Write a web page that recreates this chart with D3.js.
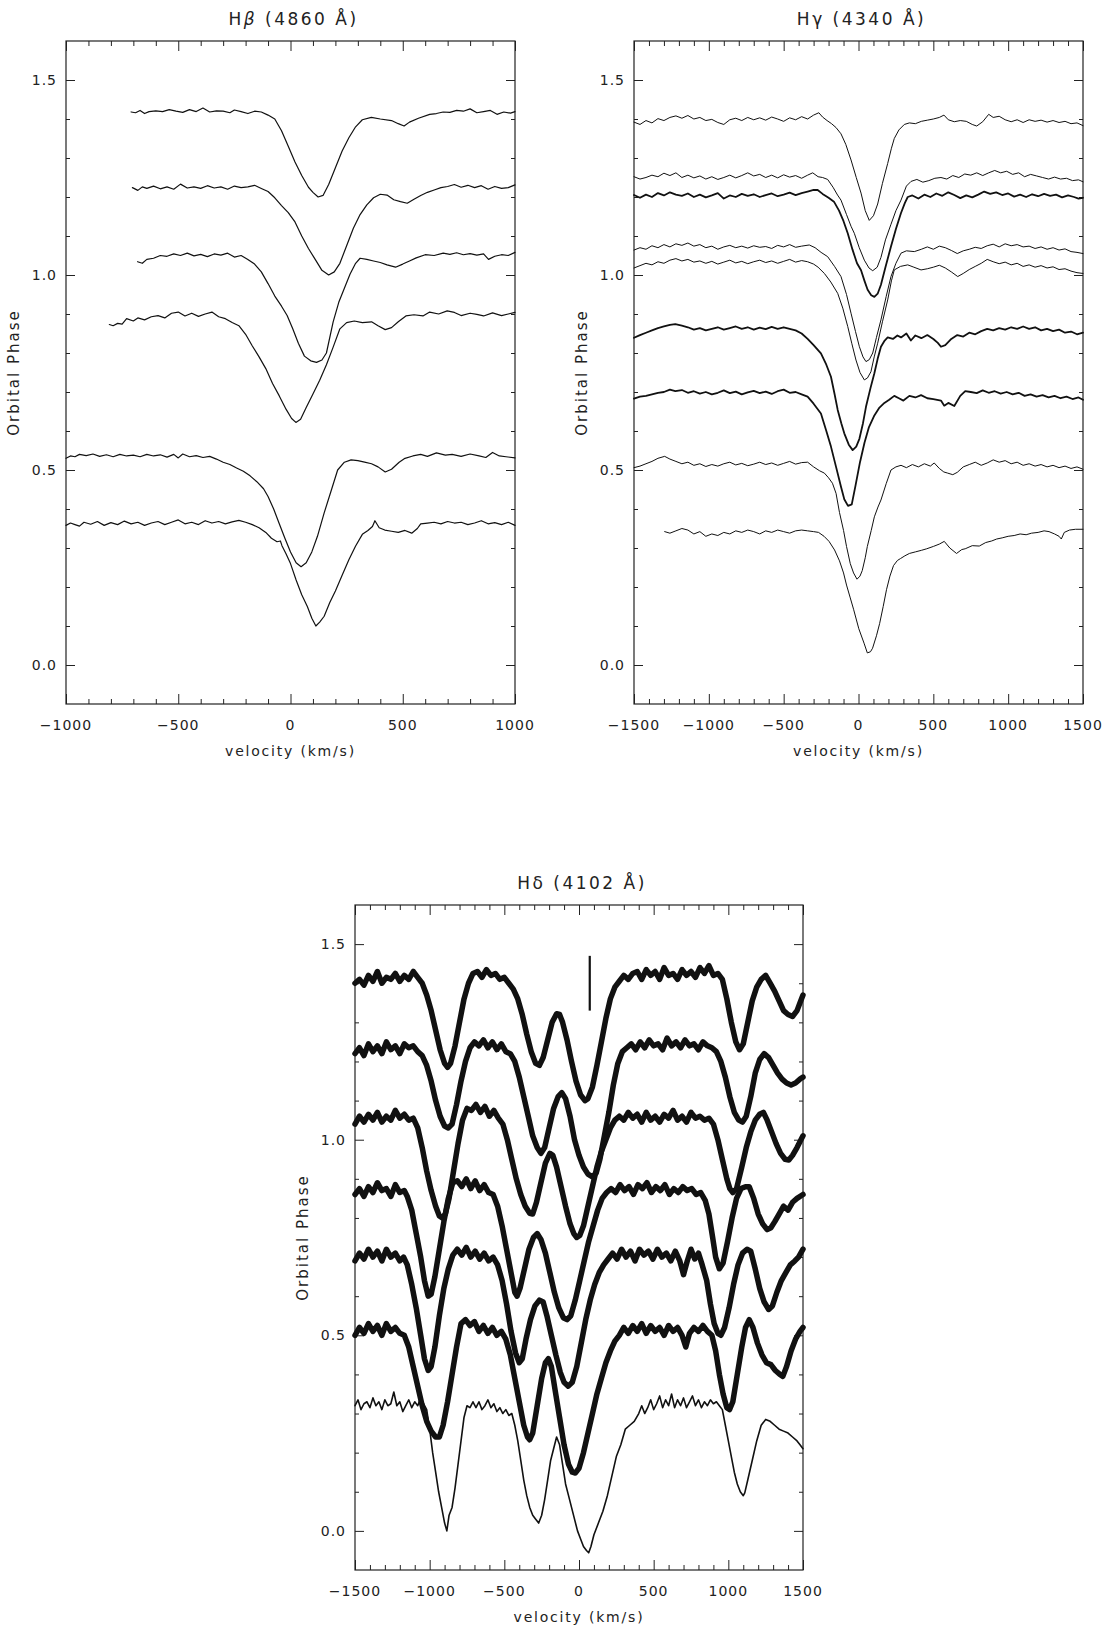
<!DOCTYPE html>
<html>
<head>
<meta charset="utf-8">
<script src="https://cdnjs.cloudflare.com/ajax/libs/d3/7.8.5/d3.min.js"></script>
<style>
    body { margin: 0; background: #fff; }
    svg text { font-family: "DejaVu Sans", sans-serif; fill: #222; }
    .axis path { display: none; }
    .axis line { stroke: #222; stroke-width: 1; }
    .frame { fill: none; stroke: #222; stroke-width: 1.2; }
    .spec { fill: none; stroke: #111; stroke-linejoin: round; stroke-linecap: round; }
</style>
</head>
<body>
<div id="chart"></div>
<script>
// tick labels
var phaseTicks = [0.0, 0.5, 1.0, 1.5];
var hbetaVelTicks = [-1000, -500, 0, 500, 1000];
var wideVelTicks = [-1500, -1000, -500, 0, 500, 1000, 1500];

// H-beta spectra, flat [velocity, phase, ...]
var hbeta1 = [-710,1.418, -690,1.416, -670,1.422, -650,1.414, -630,1.419, -600,1.421, -570,1.419, -540,1.424, -510,1.420, -480,1.417, -450,1.424, -420,1.419, -390,1.428, -360,1.418, -330,1.421, -300,1.420, -270,1.416, -250,1.423, -220,1.419, -190,1.414, -160,1.420, -130,1.418, -100,1.410, -70,1.400, -40,1.370, -10,1.330, 20,1.290, 50,1.255, 80,1.225, 100,1.212, 123,1.200, 145,1.204, 170,1.232, 200,1.275, 230,1.318, 260,1.352, 290,1.380, 320,1.398, 360,1.404, 400,1.400, 450,1.396, 480,1.388, 506,1.382, 530,1.392, 570,1.402, 620,1.412, 650,1.414, 680,1.418, 710,1.417, 740,1.422, 770,1.420, 800,1.426, 830,1.416, 860,1.419, 890,1.422, 920,1.412, 950,1.418, 980,1.415, 1000,1.419];
var hbeta2 = [-704,1.224, -680,1.217, -660,1.226, -640,1.222, -610,1.228, -580,1.221, -550,1.226, -520,1.220, -490,1.233, -460,1.223, -430,1.226, -400,1.222, -370,1.229, -340,1.223, -310,1.226, -280,1.220, -250,1.228, -220,1.224, -190,1.226, -160,1.230, -130,1.222, -100,1.214, -70,1.198, -40,1.178, -10,1.160, 20,1.136, 50,1.100, 80,1.068, 110,1.040, 140,1.012, 170,1.000, 195,1.008, 220,1.030, 250,1.075, 280,1.120, 310,1.155, 340,1.180, 370,1.198, 400,1.207, 430,1.205, 460,1.193, 490,1.188, 520,1.184, 550,1.194, 580,1.204, 610,1.212, 640,1.218, 670,1.224, 700,1.227, 730,1.232, 760,1.225, 790,1.230, 820,1.224, 850,1.229, 880,1.220, 910,1.227, 940,1.222, 970,1.224, 1000,1.231];
var hbeta3 = [-681,1.034, -660,1.030, -640,1.040, -610,1.043, -580,1.050, -550,1.048, -520,1.054, -490,1.050, -460,1.056, -430,1.049, -400,1.053, -370,1.047, -340,1.054, -310,1.051, -280,1.056, -250,1.046, -220,1.050, -190,1.040, -160,1.028, -130,1.008, -100,0.978, -70,0.946, -40,0.920, -15,0.896, 10,0.862, 35,0.825, 62,0.792, 90,0.780, 116,0.776, 140,0.782, 160,0.800, 190,0.880, 215,0.930, 240,0.966, 265,1.002, 290,1.030, 310,1.043, 340,1.040, 370,1.036, 400,1.032, 430,1.026, 468,1.020, 500,1.028, 530,1.036, 560,1.044, 600,1.052, 640,1.050, 680,1.056, 710,1.053, 740,1.057, 770,1.052, 800,1.055, 830,1.051, 860,1.054, 882,1.040, 910,1.048, 940,1.052, 970,1.050, 1000,1.058];
var hbeta4 = [-807,0.873, -790,0.870, -770,0.876, -750,0.874, -730,0.888, -700,0.882, -680,0.890, -650,0.885, -620,0.893, -590,0.896, -560,0.890, -530,0.902, -500,0.905, -470,0.895, -440,0.902, -410,0.894, -380,0.900, -350,0.905, -320,0.893, -290,0.888, -260,0.878, -230,0.870, -200,0.848, -170,0.818, -140,0.790, -110,0.760, -80,0.722, -50,0.690, -20,0.656, 5,0.632, 24,0.622, 45,0.630, 70,0.660, 100,0.695, 130,0.730, 160,0.770, 190,0.815, 220,0.862, 250,0.878, 284,0.882, 320,0.878, 361,0.880, 390,0.870, 422,0.860, 450,0.865, 480,0.880, 514,0.895, 550,0.898, 590,0.895, 620,0.905, 660,0.900, 698,0.908, 730,0.904, 760,0.896, 800,0.902, 830,0.899, 860,0.895, 900,0.903, 940,0.896, 970,0.900, 1000,0.904];
var hbeta5 = [-1000,0.530, -980,0.536, -960,0.534, -940,0.540, -910,0.537, -880,0.541, -850,0.535, -820,0.539, -790,0.534, -760,0.540, -730,0.536, -700,0.538, -670,0.534, -640,0.540, -610,0.536, -580,0.539, -550,0.533, -520,0.540, -500,0.531, -480,0.541, -450,0.534, -420,0.537, -390,0.532, -360,0.535, -330,0.528, -300,0.520, -270,0.514, -240,0.505, -210,0.497, -180,0.485, -150,0.470, -120,0.452, -100,0.432, -75,0.400, -50,0.362, -25,0.325, 0,0.290, 25,0.262, 47,0.252, 70,0.262, 95,0.290, 120,0.330, 150,0.390, 180,0.445, 210,0.500, 240,0.520, 270,0.526, 300,0.524, 330,0.520, 361,0.516, 390,0.508, 422,0.495, 450,0.502, 484,0.520, 510,0.530, 545,0.536, 580,0.540, 610,0.535, 650,0.544, 690,0.538, 720,0.540, 760,0.535, 800,0.541, 840,0.536, 870,0.532, 900,0.545, 930,0.536, 960,0.534, 1000,0.531];
var hbeta6 = [-1000,0.358, -980,0.364, -960,0.360, -940,0.356, -920,0.366, -890,0.361, -860,0.368, -830,0.358, -800,0.365, -770,0.360, -740,0.369, -710,0.362, -680,0.366, -650,0.358, -620,0.364, -590,0.368, -560,0.360, -530,0.366, -500,0.372, -470,0.362, -440,0.366, -410,0.360, -380,0.370, -350,0.364, -320,0.368, -290,0.362, -260,0.367, -230,0.371, -200,0.366, -170,0.360, -140,0.352, -110,0.340, -85,0.325, -60,0.316, -45,0.318, -38,0.306, -20,0.285, 0,0.260, 25,0.218, 50,0.180, 75,0.150, 95,0.120, 113,0.100, 130,0.110, 150,0.125, 175,0.160, 200,0.190, 230,0.230, 260,0.270, 290,0.305, 320,0.335, 345,0.345, 365,0.355, 376,0.370, 395,0.352, 420,0.346, 450,0.343, 480,0.340, 510,0.345, 540,0.338, 565,0.350, 580,0.362, 610,0.364, 640,0.366, 670,0.362, 700,0.368, 730,0.364, 760,0.366, 790,0.360, 820,0.364, 850,0.370, 880,0.362, 910,0.365, 940,0.360, 970,0.366, 1000,0.358];

// H-gamma spectra
var hgamma1 = [-1500,1.392, -1460,1.386, -1420,1.396, -1380,1.390, -1340,1.401, -1300,1.396, -1260,1.404, -1220,1.408, -1180,1.402, -1140,1.409, -1100,1.400, -1060,1.404, -1020,1.396, -980,1.399, -940,1.391, -900,1.386, -860,1.398, -820,1.402, -780,1.396, -740,1.404, -700,1.398, -660,1.403, -620,1.397, -580,1.405, -540,1.400, -500,1.394, -460,1.403, -420,1.398, -380,1.406, -340,1.400, -300,1.410, -265,1.416, -240,1.405, -210,1.396, -180,1.388, -150,1.378, -117,1.362, -85,1.335, -50,1.295, -15,1.250, 17,1.210, 45,1.165, 72,1.140, 100,1.152, 128,1.182, 160,1.235, 195,1.286, 220,1.325, 239,1.350, 270,1.372, 306,1.386, 340,1.390, 380,1.388, 420,1.394, 460,1.397, 500,1.400, 540,1.404, 571,1.410, 600,1.398, 640,1.393, 680,1.396, 720,1.394, 760,1.386, 790,1.382, 830,1.393, 870,1.412, 900,1.404, 940,1.407, 980,1.398, 1020,1.393, 1060,1.398, 1100,1.391, 1140,1.398, 1180,1.394, 1220,1.397, 1260,1.392, 1300,1.396, 1340,1.391, 1380,1.394, 1420,1.388, 1460,1.390, 1500,1.383];
var hgamma2 = [-1500,1.252, -1460,1.246, -1420,1.250, -1380,1.256, -1340,1.252, -1300,1.261, -1260,1.255, -1220,1.262, -1180,1.250, -1140,1.256, -1100,1.249, -1060,1.254, -1020,1.246, -980,1.252, -940,1.245, -900,1.250, -860,1.256, -820,1.249, -780,1.255, -740,1.262, -700,1.254, -660,1.258, -620,1.250, -580,1.256, -540,1.249, -500,1.257, -460,1.251, -420,1.255, -380,1.248, -340,1.256, -306,1.262, -270,1.252, -240,1.250, -206,1.245, -170,1.225, -140,1.205, -117,1.192, -80,1.155, -50,1.125, -28,1.107, 5,1.070, 39,1.038, 70,1.018, 95,1.011, 125,1.020, 150,1.045, 180,1.090, 217,1.130, 250,1.165, 284,1.192, 320,1.228, 351,1.240, 390,1.245, 430,1.238, 470,1.242, 510,1.248, 551,1.250, 590,1.246, 630,1.255, 670,1.250, 710,1.259, 750,1.256, 790,1.262, 830,1.255, 870,1.262, 910,1.268, 950,1.262, 990,1.266, 1030,1.258, 1070,1.262, 1110,1.252, 1150,1.258, 1190,1.254, 1230,1.250, 1270,1.246, 1310,1.251, 1350,1.246, 1390,1.248, 1430,1.242, 1470,1.244, 1500,1.239];
var hgamma3 = [-1500,1.205, -1460,1.198, -1420,1.206, -1380,1.200, -1340,1.210, -1300,1.204, -1260,1.212, -1220,1.206, -1180,1.203, -1140,1.209, -1100,1.200, -1060,1.206, -1020,1.199, -980,1.204, -940,1.210, -900,1.196, -860,1.204, -820,1.200, -780,1.208, -740,1.203, -700,1.207, -660,1.200, -620,1.205, -580,1.209, -540,1.202, -500,1.206, -460,1.211, -420,1.205, -380,1.210, -340,1.214, -300,1.218, -273,1.218, -240,1.208, -200,1.198, -164,1.188, -130,1.165, -100,1.138, -72,1.107, -40,1.065, -10,1.030, 17,1.012, 40,0.985, 61,0.962, 85,0.948, 106,0.944, 128,0.952, 150,0.975, 180,1.020, 217,1.073, 250,1.118, 284,1.159, 310,1.185, 329,1.200, 360,1.204, 400,1.196, 440,1.206, 480,1.200, 520,1.209, 560,1.203, 600,1.212, 640,1.205, 680,1.197, 720,1.204, 760,1.199, 800,1.206, 840,1.214, 880,1.208, 920,1.212, 960,1.205, 1000,1.209, 1040,1.201, 1080,1.206, 1120,1.200, 1160,1.207, 1200,1.202, 1240,1.208, 1280,1.203, 1320,1.206, 1360,1.199, 1400,1.204, 1440,1.200, 1470,1.196, 1500,1.198];
var hgamma4 = [-1500,1.064, -1460,1.070, -1420,1.066, -1380,1.075, -1340,1.070, -1300,1.078, -1260,1.072, -1220,1.080, -1180,1.076, -1140,1.082, -1100,1.074, -1060,1.078, -1020,1.070, -980,1.074, -940,1.066, -900,1.072, -860,1.076, -820,1.070, -780,1.074, -740,1.069, -700,1.075, -660,1.071, -620,1.073, -580,1.068, -540,1.076, -500,1.072, -460,1.078, -420,1.071, -380,1.074, -329,1.077, -290,1.070, -250,1.058, -206,1.047, -160,1.022, -117,0.996, -80,0.950, -50,0.902, -20,0.855, 6,0.816, 30,0.790, 50,0.778, 72,0.783, 95,0.800, 120,0.840, 150,0.885, 185,0.945, 217,0.996, 250,1.030, 284,1.056, 320,1.062, 373,1.060, 420,1.066, 460,1.072, 500,1.066, 540,1.074, 580,1.070, 620,1.063, 660,1.055, 700,1.062, 740,1.066, 780,1.071, 820,1.068, 860,1.075, 900,1.079, 940,1.072, 980,1.080, 1020,1.075, 1060,1.078, 1100,1.072, 1140,1.074, 1180,1.068, 1220,1.072, 1260,1.066, 1300,1.070, 1340,1.064, 1380,1.067, 1420,1.060, 1460,1.058, 1500,1.055];
var hgamma5 = [-1500,1.018, -1460,1.024, -1420,1.030, -1380,1.026, -1340,1.034, -1300,1.030, -1260,1.038, -1220,1.042, -1180,1.036, -1140,1.040, -1100,1.033, -1060,1.036, -1020,1.030, -980,1.035, -940,1.028, -900,1.033, -860,1.038, -820,1.031, -780,1.035, -740,1.029, -700,1.034, -660,1.038, -620,1.032, -580,1.036, -540,1.030, -500,1.035, -460,1.040, -420,1.033, -380,1.037, -340,1.034, -300,1.028, -270,1.020, -228,1.004, -185,0.982, -139,0.953, -105,0.915, -72,0.868, -45,0.825, -17,0.782, 10,0.750, 39,0.731, 60,0.736, 83,0.752, 105,0.790, 128,0.825, 160,0.880, 195,0.936, 220,0.985, 239,1.013, 280,1.022, 329,1.026, 370,1.020, 418,1.013, 460,1.016, 500,1.020, 540,1.025, 580,1.018, 620,1.008, 663,0.996, 700,1.004, 740,1.014, 780,1.022, 820,1.030, 860,1.040, 900,1.034, 940,1.029, 980,1.033, 1020,1.026, 1060,1.030, 1100,1.022, 1140,1.026, 1180,1.020, 1220,1.024, 1260,1.018, 1300,1.021, 1340,1.014, 1380,1.016, 1420,1.010, 1460,1.006, 1500,1.004];
var hgamma6 = [-1500,0.839, -1460,0.846, -1420,0.852, -1380,0.858, -1340,0.864, -1300,0.868, -1260,0.872, -1224,0.874, -1180,0.870, -1140,0.866, -1100,0.860, -1060,0.864, -1020,0.858, -980,0.862, -940,0.866, -900,0.860, -860,0.864, -820,0.868, -780,0.862, -740,0.866, -700,0.860, -660,0.865, -620,0.861, -580,0.867, -540,0.862, -500,0.866, -460,0.862, -420,0.858, -380,0.850, -340,0.836, -300,0.820, -251,0.799, -215,0.770, -184,0.739, -160,0.695, -139,0.654, -115,0.620, -95,0.594, -65,0.565, -39,0.551, -15,0.560, 6,0.580, 30,0.620, 50,0.662, 80,0.710, 106,0.748, 128,0.785, 150,0.816, 175,0.832, 195,0.840, 230,0.836, 260,0.845, 284,0.840, 320,0.850, 350,0.832, 380,0.845, 420,0.838, 460,0.846, 500,0.836, 530,0.826, 551,0.816, 580,0.820, 620,0.836, 660,0.846, 700,0.842, 740,0.852, 780,0.848, 820,0.856, 860,0.862, 900,0.858, 940,0.864, 980,0.860, 1020,0.866, 1060,0.862, 1100,0.868, 1140,0.862, 1180,0.866, 1220,0.858, 1260,0.862, 1300,0.856, 1340,0.860, 1380,0.852, 1420,0.855, 1460,0.848, 1500,0.852];
var hgamma7 = [-1500,0.683, -1460,0.688, -1420,0.690, -1380,0.694, -1340,0.698, -1300,0.700, -1260,0.706, -1224,0.702, -1180,0.705, -1140,0.698, -1100,0.702, -1060,0.696, -1020,0.700, -980,0.694, -940,0.698, -900,0.704, -860,0.697, -820,0.701, -780,0.694, -740,0.699, -700,0.703, -660,0.697, -620,0.701, -580,0.695, -540,0.702, -500,0.706, -460,0.698, -420,0.700, -380,0.694, -340,0.688, -300,0.670, -251,0.645, -215,0.600, -184,0.560, -150,0.508, -117,0.457, -95,0.425, -70,0.408, -45,0.412, -20,0.460, 10,0.520, 40,0.570, 70,0.610, 106,0.640, 140,0.660, 173,0.672, 205,0.680, 239,0.690, 270,0.684, 300,0.678, 340,0.690, 380,0.686, 418,0.692, 460,0.684, 500,0.682, 551,0.678, 573,0.665, 600,0.672, 640,0.664, 680,0.690, 713,0.702, 750,0.700, 790,0.697, 830,0.704, 870,0.698, 910,0.702, 950,0.696, 990,0.700, 1030,0.694, 1070,0.698, 1110,0.690, 1150,0.694, 1190,0.688, 1230,0.692, 1270,0.686, 1310,0.690, 1350,0.684, 1390,0.688, 1430,0.682, 1470,0.686, 1500,0.680];
var hgamma8 = [-1500,0.506, -1460,0.510, -1420,0.516, -1380,0.522, -1340,0.530, -1295,0.535, -1260,0.528, -1220,0.522, -1180,0.516, -1140,0.520, -1100,0.512, -1060,0.516, -1020,0.509, -980,0.514, -940,0.510, -900,0.516, -860,0.520, -820,0.513, -780,0.517, -740,0.511, -700,0.515, -660,0.520, -620,0.514, -580,0.518, -540,0.512, -500,0.517, -460,0.522, -420,0.515, -380,0.519, -340,0.520, -300,0.508, -260,0.498, -228,0.492, -200,0.480, -174,0.466, -150,0.440, -127,0.391, -100,0.345, -80,0.304, -55,0.260, -33,0.236, -10,0.220, 10,0.228, 25,0.242, 45,0.275, 59,0.304, 85,0.345, 106,0.380, 130,0.405, 150,0.423, 185,0.465, 217,0.500, 250,0.508, 284,0.512, 320,0.506, 360,0.514, 400,0.508, 440,0.516, 480,0.510, 506,0.518, 540,0.504, 570,0.495, 596,0.492, 630,0.488, 660,0.494, 700,0.508, 740,0.514, 780,0.520, 820,0.512, 860,0.518, 900,0.526, 940,0.520, 980,0.524, 1020,0.516, 1060,0.520, 1100,0.512, 1140,0.516, 1180,0.510, 1220,0.514, 1260,0.508, 1300,0.512, 1340,0.506, 1380,0.510, 1420,0.504, 1460,0.508, 1500,0.502];
var hgamma9 = [-1295,0.342, -1260,0.338, -1220,0.344, -1180,0.350, -1140,0.346, -1100,0.336, -1060,0.342, -1020,0.330, -980,0.336, -940,0.332, -900,0.340, -860,0.336, -820,0.344, -780,0.340, -740,0.346, -700,0.342, -660,0.336, -620,0.344, -580,0.340, -540,0.346, -500,0.342, -460,0.338, -420,0.344, -380,0.346, -340,0.344, -300,0.342, -267,0.340, -230,0.330, -197,0.317, -160,0.295, -127,0.267, -100,0.236, -80,0.205, -55,0.172, -33,0.143, 2,0.093, 37,0.056, 59,0.031, 80,0.034, 94,0.043, 120,0.075, 141,0.106, 165,0.150, 187,0.193, 210,0.228, 234,0.255, 260,0.268, 281,0.273, 310,0.280, 340,0.286, 380,0.290, 420,0.294, 456,0.298, 500,0.304, 540,0.310, 573,0.317, 610,0.300, 655,0.286, 690,0.296, 713,0.298, 760,0.306, 807,0.305, 850,0.314, 890,0.318, 923,0.323, 960,0.326, 1000,0.330, 1040,0.332, 1080,0.336, 1120,0.334, 1156,0.338, 1200,0.340, 1240,0.344, 1273,0.342, 1310,0.336, 1340,0.330, 1355,0.323, 1375,0.340, 1410,0.346, 1450,0.348, 1500,0.348];

// H-delta spectra (each one traces a bundle of overlapping spectra)
var hdelta1 = [-1500,1.40, -1470,1.41, -1440,1.395, -1410,1.42, -1380,1.405, -1350,1.43, -1320,1.40, -1290,1.415, -1260,1.41, -1230,1.425, -1200,1.405, -1170,1.42, -1140,1.41, -1110,1.43, -1080,1.415, -1050,1.40, -1020,1.37, -990,1.33, -960,1.28, -930,1.23, -900,1.195, -880,1.185, -860,1.195, -830,1.24, -800,1.30, -770,1.36, -740,1.40, -710,1.425, -680,1.43, -650,1.415, -620,1.435, -590,1.42, -560,1.425, -530,1.41, -500,1.415, -470,1.40, -440,1.385, -410,1.36, -380,1.32, -350,1.27, -320,1.225, -290,1.195, -265,1.19, -240,1.21, -210,1.255, -180,1.30, -150,1.322, -130,1.32, -110,1.30, -80,1.255, -50,1.20, -20,1.15, 10,1.115, 40,1.10, 60,1.105, 90,1.135, 120,1.19, 150,1.25, 180,1.31, 210,1.36, 240,1.39, 270,1.405, 300,1.42, 330,1.41, 360,1.425, 390,1.43, 420,1.41, 450,1.435, 480,1.42, 510,1.43, 540,1.41, 570,1.44, 600,1.42, 630,1.425, 660,1.41, 690,1.435, 720,1.42, 750,1.43, 780,1.415, 810,1.44, 840,1.425, 870,1.445, 900,1.42, 930,1.425, 960,1.41, 990,1.36, 1020,1.30, 1050,1.25, 1075,1.23, 1100,1.245, 1130,1.30, 1160,1.355, 1190,1.39, 1220,1.41, 1250,1.42, 1280,1.40, 1310,1.38, 1340,1.355, 1370,1.33, 1400,1.32, 1430,1.315, 1460,1.33, 1480,1.35, 1500,1.37];
var hdelta2 = [-1500,1.22, -1470,1.235, -1440,1.215, -1410,1.245, -1380,1.225, -1350,1.24, -1320,1.22, -1290,1.25, -1260,1.23, -1230,1.24, -1200,1.22, -1170,1.245, -1140,1.235, -1110,1.24, -1080,1.225, -1050,1.215, -1020,1.19, -990,1.15, -960,1.10, -930,1.06, -900,1.035, -875,1.03, -850,1.04, -820,1.09, -790,1.15, -760,1.20, -730,1.235, -700,1.25, -670,1.24, -640,1.255, -610,1.235, -580,1.25, -550,1.23, -520,1.245, -490,1.225, -460,1.22, -430,1.20, -400,1.16, -370,1.11, -340,1.06, -310,1.01, -280,0.98, -255,0.965, -230,0.98, -200,1.03, -170,1.08, -140,1.11, -115,1.12, -90,1.105, -60,1.06, -30,1.00, 0,0.96, 30,0.93, 60,0.912, 90,0.905, 115,0.915, 140,0.95, 170,1.01, 200,1.07, 230,1.14, 260,1.195, 290,1.225, 320,1.235, 350,1.245, 380,1.23, 410,1.25, 440,1.235, 470,1.255, 500,1.24, 530,1.245, 560,1.23, 590,1.26, 620,1.24, 650,1.25, 680,1.235, 710,1.255, 740,1.24, 770,1.245, 800,1.23, 830,1.25, 860,1.24, 890,1.235, 920,1.225, 950,1.20, 980,1.16, 1010,1.11, 1040,1.07, 1070,1.05, 1095,1.045, 1120,1.06, 1150,1.11, 1180,1.17, 1210,1.205, 1240,1.22, 1270,1.21, 1300,1.19, 1330,1.17, 1360,1.155, 1390,1.145, 1420,1.14, 1450,1.145, 1480,1.155, 1500,1.16];
var hdelta3 = [-1500,1.04, -1470,1.06, -1440,1.045, -1410,1.065, -1380,1.05, -1350,1.07, -1320,1.045, -1290,1.06, -1260,1.05, -1230,1.075, -1200,1.055, -1170,1.065, -1140,1.05, -1110,1.055, -1080,1.03, -1050,0.98, -1020,0.92, -990,0.87, -960,0.83, -935,0.805, -915,0.80, -895,0.81, -870,0.85, -840,0.92, -810,0.99, -780,1.05, -750,1.08, -720,1.075, -690,1.09, -660,1.07, -630,1.085, -600,1.06, -570,1.075, -540,1.055, -510,1.04, -480,1.00, -450,0.95, -420,0.90, -390,0.86, -360,0.83, -330,0.812, -310,0.81, -285,0.84, -255,0.89, -225,0.94, -195,0.965, -175,0.96, -150,0.93, -120,0.88, -90,0.83, -60,0.785, -35,0.76, -15,0.75, 5,0.755, 30,0.78, 60,0.83, 90,0.88, 120,0.93, 150,0.97, 180,1.00, 210,1.03, 240,1.05, 270,1.06, 300,1.05, 330,1.07, 360,1.055, 390,1.065, 420,1.045, 450,1.07, 480,1.05, 510,1.06, 540,1.045, 570,1.065, 600,1.055, 630,1.075, 660,1.05, 690,1.06, 720,1.045, 750,1.07, 780,1.055, 810,1.06, 840,1.05, 870,1.055, 900,1.04, 930,1.00, 960,0.95, 990,0.90, 1010,0.875, 1030,0.865, 1055,0.875, 1090,0.93, 1120,0.98, 1150,1.02, 1180,1.05, 1210,1.065, 1235,1.07, 1260,1.05, 1290,1.02, 1320,0.99, 1350,0.965, 1380,0.95, 1405,0.948, 1430,0.96, 1460,0.98, 1500,1.01];
var hdelta4 = [-1500,0.86, -1470,0.875, -1440,0.855, -1410,0.88, -1380,0.865, -1350,0.89, -1320,0.87, -1290,0.875, -1260,0.855, -1230,0.885, -1200,0.865, -1170,0.87, -1150,0.855, -1120,0.82, -1090,0.76, -1060,0.70, -1035,0.64, -1010,0.60, -990,0.605, -965,0.65, -935,0.72, -905,0.79, -875,0.85, -845,0.89, -815,0.895, -785,0.88, -755,0.90, -725,0.875, -695,0.895, -665,0.87, -635,0.885, -605,0.865, -575,0.86, -545,0.83, -515,0.78, -485,0.72, -455,0.66, -430,0.61, -415,0.60, -395,0.62, -365,0.67, -335,0.72, -305,0.75, -280,0.76, -255,0.745, -225,0.71, -195,0.66, -165,0.61, -135,0.57, -105,0.545, -80,0.54, -55,0.55, -25,0.59, 5,0.64, 35,0.69, 65,0.74, 95,0.78, 125,0.82, 155,0.85, 185,0.865, 215,0.875, 245,0.865, 275,0.885, 305,0.87, 335,0.88, 365,0.86, 395,0.885, 425,0.875, 455,0.89, 485,0.865, 515,0.88, 545,0.87, 575,0.885, 605,0.86, 635,0.875, 665,0.865, 695,0.88, 725,0.87, 755,0.875, 785,0.86, 815,0.865, 845,0.845, 870,0.81, 895,0.75, 915,0.70, 940,0.67, 965,0.685, 995,0.74, 1025,0.80, 1055,0.85, 1085,0.875, 1115,0.88, 1140,0.88, 1170,0.85, 1200,0.81, 1230,0.785, 1260,0.77, 1285,0.775, 1310,0.79, 1340,0.81, 1370,0.83, 1400,0.82, 1430,0.84, 1460,0.85, 1500,0.86];
var hdelta5 = [-1500,0.69, -1470,0.71, -1440,0.695, -1410,0.72, -1380,0.70, -1350,0.715, -1320,0.69, -1290,0.72, -1260,0.70, -1230,0.71, -1200,0.69, -1175,0.70, -1150,0.68, -1120,0.63, -1090,0.57, -1060,0.50, -1035,0.44, -1010,0.41, -990,0.42, -965,0.47, -935,0.55, -905,0.62, -875,0.67, -845,0.705, -815,0.72, -785,0.705, -755,0.725, -725,0.70, -695,0.715, -665,0.695, -635,0.71, -605,0.69, -575,0.70, -545,0.68, -515,0.64, -485,0.58, -455,0.51, -425,0.455, -400,0.43, -380,0.44, -355,0.49, -325,0.54, -295,0.575, -265,0.59, -240,0.585, -215,0.55, -185,0.50, -155,0.45, -125,0.405, -100,0.38, -72,0.37, -45,0.38, -15,0.42, 15,0.48, 45,0.54, 75,0.59, 105,0.63, 135,0.66, 165,0.68, 195,0.695, 225,0.71, 255,0.695, 285,0.72, 315,0.70, 345,0.715, 375,0.69, 405,0.72, 435,0.705, 465,0.715, 495,0.695, 525,0.72, 555,0.70, 585,0.71, 615,0.69, 645,0.715, 675,0.69, 700,0.655, 725,0.69, 750,0.72, 775,0.695, 800,0.71, 825,0.68, 855,0.64, 880,0.58, 905,0.53, 930,0.505, 950,0.50, 975,0.52, 1005,0.57, 1035,0.63, 1065,0.68, 1095,0.71, 1125,0.72, 1150,0.715, 1180,0.67, 1210,0.62, 1240,0.585, 1270,0.566, 1295,0.575, 1325,0.61, 1355,0.64, 1385,0.66, 1415,0.68, 1445,0.69, 1470,0.70, 1500,0.72];
var hdelta6 = [-1500,0.50, -1470,0.52, -1440,0.505, -1410,0.53, -1380,0.51, -1350,0.525, -1320,0.50, -1290,0.53, -1260,0.51, -1230,0.52, -1200,0.505, -1170,0.50, -1140,0.47, -1110,0.42, -1080,0.37, -1050,0.32, -1020,0.28, -990,0.255, -960,0.24, -935,0.24, -910,0.27, -880,0.33, -850,0.40, -820,0.47, -790,0.53, -760,0.54, -730,0.525, -700,0.535, -670,0.51, -640,0.525, -610,0.505, -580,0.52, -550,0.50, -520,0.51, -490,0.49, -460,0.45, -430,0.39, -400,0.33, -370,0.27, -345,0.24, -330,0.233, -310,0.25, -280,0.32, -250,0.39, -225,0.43, -205,0.44, -185,0.42, -160,0.36, -130,0.29, -100,0.22, -70,0.17, -45,0.15, -25,0.148, 0,0.16, 30,0.20, 60,0.25, 90,0.30, 120,0.35, 150,0.39, 180,0.43, 210,0.46, 240,0.485, 270,0.50, 300,0.52, 330,0.505, 360,0.525, 390,0.51, 420,0.53, 450,0.505, 480,0.525, 510,0.51, 540,0.52, 570,0.50, 600,0.525, 630,0.51, 660,0.52, 690,0.50, 715,0.47, 740,0.505, 770,0.52, 800,0.51, 830,0.525, 860,0.51, 890,0.50, 915,0.46, 940,0.40, 965,0.35, 990,0.315, 1008,0.31, 1030,0.33, 1060,0.40, 1090,0.47, 1115,0.52, 1140,0.54, 1165,0.52, 1195,0.48, 1225,0.45, 1255,0.43, 1285,0.425, 1315,0.41, 1345,0.40, 1365,0.395, 1390,0.42, 1420,0.46, 1450,0.49, 1480,0.51, 1500,0.52];
var hdelta7 = [-1500,0.32, -1480,0.335, -1460,0.31, -1440,0.325, -1420,0.33, -1400,0.315, -1380,0.34, -1360,0.32, -1340,0.33, -1320,0.31, -1300,0.335, -1280,0.32, -1260,0.325, -1240,0.355, -1220,0.32, -1200,0.33, -1180,0.305, -1160,0.32, -1140,0.335, -1120,0.315, -1100,0.33, -1080,0.32, -1060,0.34, -1040,0.325, -1020,0.31, -1000,0.26, -980,0.20, -960,0.15, -940,0.10, -920,0.06, -900,0.02, -885,0.0, -870,0.04, -850,0.06, -830,0.11, -810,0.17, -790,0.23, -770,0.29, -750,0.32, -730,0.315, -710,0.33, -690,0.315, -670,0.33, -650,0.31, -630,0.32, -610,0.335, -590,0.315, -570,0.325, -550,0.305, -530,0.315, -510,0.30, -490,0.31, -470,0.295, -450,0.30, -430,0.27, -410,0.23, -390,0.18, -370,0.13, -350,0.09, -330,0.06, -310,0.04, -290,0.03, -270,0.02, -250,0.04, -230,0.08, -210,0.13, -190,0.18, -170,0.21, -150,0.24, -130,0.22, -110,0.17, -90,0.12, -70,0.09, -50,0.06, -30,0.03, -10,0.0, 10,-0.02, 30,-0.04, 50,-0.05, 65,-0.056, 80,-0.04, 100,-0.01, 130,0.02, 160,0.05, 190,0.09, 220,0.14, 250,0.19, 280,0.22, 310,0.26, 340,0.27, 370,0.28, 400,0.30, 420,0.32, 440,0.30, 460,0.315, 480,0.335, 500,0.31, 520,0.325, 540,0.345, 560,0.315, 580,0.335, 600,0.32, 620,0.35, 640,0.315, 660,0.335, 680,0.32, 700,0.34, 720,0.315, 740,0.33, 760,0.345, 780,0.32, 800,0.335, 820,0.315, 840,0.33, 860,0.32, 880,0.335, 900,0.325, 920,0.33, 940,0.32, 960,0.31, 980,0.27, 1000,0.23, 1020,0.19, 1040,0.15, 1060,0.12, 1080,0.10, 1100,0.09, 1110,0.097, 1130,0.13, 1160,0.18, 1190,0.23, 1220,0.27, 1250,0.285, 1280,0.28, 1310,0.27, 1340,0.26, 1370,0.255, 1400,0.25, 1430,0.24, 1460,0.23, 1480,0.22, 1500,0.21];

// vertical marker in the H-delta panel
var hdeltaMarkVel = 72;
var hdeltaMarkPhase = [1.33, 1.47];

var width = 1108,
    height = 1628,
    phaseDomain = [-0.1, 1.6];

var svg = d3.select("#chart").append("svg")
    .attr("width", width)
    .attr("height", height);

function pairs(flat) {
    var out = [];
    for (var i = 0; i < flat.length; i += 2) {
        out.push([flat[i], flat[i + 1]]);
    }
    return out;
}

function velLabel(d) {
    return d < 0 ? "\u2212" + Math.abs(d) : String(d);
}

function drawPanel(p) {
    var x = d3.scaleLinear().domain(p.vel).range([p.left, p.right]);
    var y = d3.scaleLinear().domain(phaseDomain).range([p.bottom, p.top]);
    var g = svg.append("g");

    var xMinor = d3.range(p.vel[0], p.vel[1] + 1, 100).filter(function (d) {
        return p.ticks.indexOf(d) < 0;
    });
    var yMinor = d3.range(1, 16).map(function (i) { return i / 10; }).filter(function (d) {
        return [0.5, 1.0, 1.5].indexOf(d) < 0;
    });

    // ticks on all four sides, pointing inwards
    g.append("g").attr("class", "axis")
        .attr("transform", "translate(0," + p.bottom + ")")
        .call(d3.axisBottom(x).tickValues(p.ticks).tickSize(-10).tickFormat(""));
    g.append("g").attr("class", "axis")
        .attr("transform", "translate(0," + p.bottom + ")")
        .call(d3.axisBottom(x).tickValues(xMinor).tickSize(-5).tickFormat(""));
    g.append("g").attr("class", "axis")
        .attr("transform", "translate(0," + p.top + ")")
        .call(d3.axisTop(x).tickValues(p.ticks).tickSize(-10).tickFormat(""));
    g.append("g").attr("class", "axis")
        .attr("transform", "translate(0," + p.top + ")")
        .call(d3.axisTop(x).tickValues(xMinor).tickSize(-5).tickFormat(""));
    g.append("g").attr("class", "axis")
        .attr("transform", "translate(" + p.left + ",0)")
        .call(d3.axisLeft(y).tickValues(phaseTicks).tickSize(-9).tickFormat(""));
    g.append("g").attr("class", "axis")
        .attr("transform", "translate(" + p.left + ",0)")
        .call(d3.axisLeft(y).tickValues(yMinor).tickSize(-4).tickFormat(""));
    g.append("g").attr("class", "axis")
        .attr("transform", "translate(" + p.right + ",0)")
        .call(d3.axisRight(y).tickValues(phaseTicks).tickSize(-9).tickFormat(""));
    g.append("g").attr("class", "axis")
        .attr("transform", "translate(" + p.right + ",0)")
        .call(d3.axisRight(y).tickValues(yMinor).tickSize(-4).tickFormat(""));

    g.append("rect")
        .attr("class", "frame")
        .attr("x", p.left)
        .attr("y", p.top)
        .attr("width", p.right - p.left)
        .attr("height", p.bottom - p.top);

    // tick labels
    g.selectAll("text.xtick")
        .data(p.ticks)
        .enter().append("text")
        .attr("class", "xtick")
        .attr("x", function (d) { return x(d); })
        .attr("y", p.bottom + 26)
        .style("text-anchor", "middle")
        .style("font-size", "14px")
        .style("letter-spacing", "1px")
        .text(velLabel);

    g.selectAll("text.ytick")
        .data(phaseTicks)
        .enter().append("text")
        .attr("class", "ytick")
        .attr("x", p.left - 9)
        .attr("y", function (d) { return y(d) + 5; })
        .style("text-anchor", "end")
        .style("font-size", "14px")
        .style("letter-spacing", "1px")
        .text(function (d) { return d.toFixed(1); });

    g.append("text")
        .attr("x", (p.left + p.right) / 2)
        .attr("y", p.bottom + 52)
        .style("text-anchor", "middle")
        .style("font-size", "14px")
        .style("letter-spacing", "1.8px")
        .text("velocity (km/s)");

    g.append("text")
        .attr("transform", "translate(" + (p.left - 47) + "," + ((p.top + p.bottom) / 2) + ") rotate(-90)")
        .style("text-anchor", "middle")
        .style("font-size", "15px")
        .style("letter-spacing", "2px")
        .text("Orbital Phase");

    var title = g.append("text")
        .attr("x", (p.left + p.right) / 2 + 3)
        .attr("y", p.top - 16)
        .style("text-anchor", "middle")
        .style("font-size", "17px")
        .style("letter-spacing", "2.5px");
    title.append("tspan").text("H");
    title.append("tspan").style("font-style", p.italic ? "italic" : "normal").text(p.greek);
    title.append("tspan").text(" " + p.wave);

    var line = d3.line()
        .x(function (d) { return x(d[0]); })
        .y(function (d) { return y(d[1]); });

    g.selectAll("path.spec")
        .data(p.spectra)
        .enter().append("path")
        .attr("class", "spec")
        .attr("d", function (d) { return line(pairs(d)); })
        .attr("stroke-width", function (d, i) { return p.widths[i]; });

    return { x: x, y: y, g: g };
}

drawPanel({
    left: 66, right: 515, top: 41, bottom: 704,
    vel: [-1000, 1000], ticks: hbetaVelTicks,
    greek: "\u03b2", italic: true, wave: "(4860 \u00c5)",
    spectra: [hbeta1, hbeta2, hbeta3, hbeta4, hbeta5, hbeta6],
    widths: [1.2, 1.2, 1.2, 1.2, 1.2, 1.2]
});

drawPanel({
    left: 634, right: 1083, top: 41, bottom: 704,
    vel: [-1500, 1500], ticks: wideVelTicks,
    greek: "\u03b3", italic: false, wave: "(4340 \u00c5)",
    spectra: [hgamma1, hgamma2, hgamma3, hgamma4, hgamma5, hgamma6, hgamma7, hgamma8, hgamma9],
    widths: [1, 1, 1.8, 1, 1, 1.8, 1.8, 1, 1]
});

var hd = drawPanel({
    left: 355, right: 803, top: 905, bottom: 1570,
    vel: [-1500, 1500], ticks: wideVelTicks,
    greek: "\u03b4", italic: false, wave: "(4102 \u00c5)",
    spectra: [hdelta1, hdelta2, hdelta3, hdelta4, hdelta5, hdelta6, hdelta7],
    widths: [5.5, 5.5, 5.5, 5.5, 5.5, 5.5, 1.6]
});

hd.g.append("line")
    .attr("x1", hd.x(hdeltaMarkVel))
    .attr("x2", hd.x(hdeltaMarkVel))
    .attr("y1", hd.y(hdeltaMarkPhase[0]))
    .attr("y2", hd.y(hdeltaMarkPhase[1]))
    .attr("stroke", "#111")
    .attr("stroke-width", 2.2);
</script>
</body>
</html>
